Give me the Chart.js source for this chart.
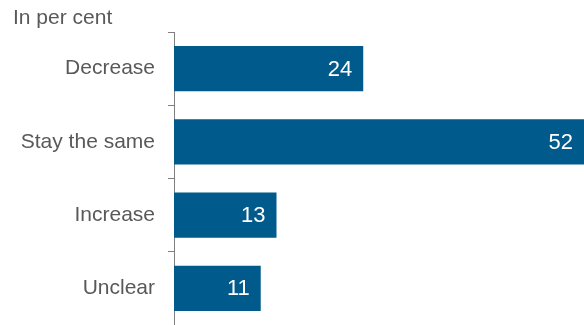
<!DOCTYPE html>
<html lang="en">
<head>
  <meta charset="UTF-8">
  <title>Expected change</title>
  <script src="https://cdn.jsdelivr.net/npm/chart.js"></script>
  <style>
    body {
      margin: 0;
      background: #ffffff;
    }

    .chart-box {
      position: relative;
      width: 584px;
      height: 325px;
    }
  </style>
</head>
<body>
  <div class="chart-box">
    <canvas id="changeChart"></canvas>
  </div>

  <script>
    const categories = ['Decrease', 'Stay the same', 'Increase', 'Unclear'];
    const shares = [24, 52, 13, 11];
    const unitLabel = 'In per cent';

    const barColor = '#005a8c';
    const textColor = '#595959';
    const axisColor = '#7f7f7f';
    const fontFamily = '"Liberation Sans", Arial, sans-serif';

    // Writes each value inside the right end of its bar, plus the unit note top left
    const barLabels = {
      id: 'barLabels',
      afterDatasetsDraw(chart) {
        const ctx = chart.ctx;
        const meta = chart.getDatasetMeta(0);
        ctx.save();
        ctx.fillStyle = '#ffffff';
        ctx.font = '22px ' + fontFamily;
        ctx.textAlign = 'right';
        ctx.textBaseline = 'middle';
        meta.data.forEach((bar, i) => {
          ctx.fillText(String(shares[i]), bar.x - 11, bar.y + 1);
        });

        ctx.fillStyle = textColor;
        ctx.font = '21px ' + fontFamily;
        ctx.textAlign = 'left';
        ctx.fillText(unitLabel, 13, 18);
        ctx.restore();
      }
    };

    const changeChart = new Chart(document.getElementById('changeChart'), {
      type: 'bar',
      data: {
        labels: categories,
        datasets: [{
          data: shares,
          backgroundColor: barColor,
          borderWidth: 0,
          categoryPercentage: 1,
          barPercentage: 0.62
        }]
      },
      options: {
        indexAxis: 'y',
        responsive: true,
        maintainAspectRatio: false,
        animation: false,
        layout: {
          padding: { top: 32, right: 0, bottom: 0, left: 0 }
        },
        plugins: {
          legend: { display: false },
          tooltip: { enabled: false }
        },
        scales: {
          x: {
            display: false,
            min: 0,
            max: 52
          },
          y: {
            // fixed axis width, and no extra room for the end labels
            afterFit(scale) {
              scale.width = 174;
              scale.paddingTop = 0;
              scale.paddingBottom = 0;
            },
            border: {
              display: true,
              color: axisColor,
              width: 1
            },
            grid: {
              offset: true,
              drawOnChartArea: false,
              drawTicks: true,
              tickLength: 6,
              color: axisColor
            },
            ticks: {
              color: textColor,
              padding: 13,
              font: { family: fontFamily, size: 21 }
            }
          }
        }
      },
      plugins: [barLabels]
    });
  </script>
</body>
</html>
